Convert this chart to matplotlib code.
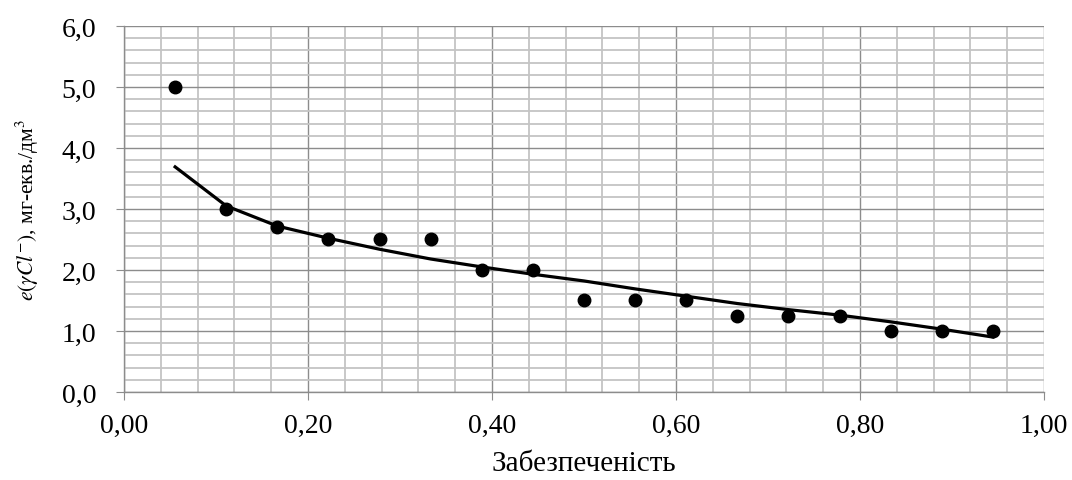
import numpy as np
import matplotlib.pyplot as plt
from matplotlib.ticker import MultipleLocator

plt.rcParams['font.family'] = ['Liberation Serif', 'DejaVu Serif']
plt.rcParams['mathtext.fontset'] = 'stix'

# probability of exceedance (n/18) and measured values
zabezp = [1/18, 2/18, 3/18, 4/18, 5/18, 6/18, 7/18, 8/18, 9/18,
          10/18, 11/18, 12/18, 13/18, 14/18, 15/18, 16/18, 17/18]
cl_vals = [5.0, 3.0, 2.7, 2.5, 2.5, 2.5, 2.0, 2.0, 1.5,
           1.5, 1.5, 1.25, 1.25, 1.25, 1.0, 1.0, 1.0]
# trend line
trend = [3.69, 3.05, 2.72, 2.52, 2.34, 2.18, 2.05, 1.93, 1.82,
         1.69, 1.57, 1.45, 1.35, 1.26, 1.15, 1.03, 0.90]

fig = plt.figure(figsize=(10.72, 4.81), dpi=100)
ax = fig.add_axes([0.1157, 0.183, 0.8582, 0.7609])

ax.set_xlim(0, 1)
ax.set_ylim(0, 6)
ax.xaxis.set_major_locator(MultipleLocator(0.2))
ax.xaxis.set_minor_locator(MultipleLocator(0.04))
ax.yaxis.set_major_locator(MultipleLocator(1.0))
ax.yaxis.set_minor_locator(MultipleLocator(0.2))

fmt = lambda d: (lambda v, p: f'{v:.{d}f}'.replace('.', ','))
ax.xaxis.set_major_formatter(plt.FuncFormatter(fmt(2)))
ax.yaxis.set_major_formatter(plt.FuncFormatter(fmt(1)))

ax.grid(which='minor', color='#c4c4c4', lw=1.3)
ax.grid(which='major', color='#8c8c8c', lw=1.0)
ax.set_axisbelow(True)

for s in ['top', 'right']:
    ax.spines[s].set_visible(False)
for s in ['left', 'bottom']:
    ax.spines[s].set_color('#8c8c8c')
    ax.spines[s].set_linewidth(1.0)

ax.tick_params(which='major', length=6, color='#8c8c8c', labelsize=20)
ax.tick_params(axis='y', which='major', pad=14)
ax.tick_params(axis='x', which='major', pad=9)
ax.tick_params(which='minor', length=0)

ax.plot(zabezp, trend, color='black', lw=2.3, zorder=3)
ax.plot(zabezp, cl_vals, 'o', color='black', ms=9, zorder=4)

ax.set_xlabel('Забезпеченість', fontsize=21)
ax.xaxis.set_label_coords(0.5, -0.158)
ax.set_ylabel(r'$e(\gamma Cl^{-})$, мг-екв./дм$^3$', fontsize=15.5)
ax.yaxis.set_label_coords(-0.090, 0.5)

fig.savefig('out.png', dpi=100)
